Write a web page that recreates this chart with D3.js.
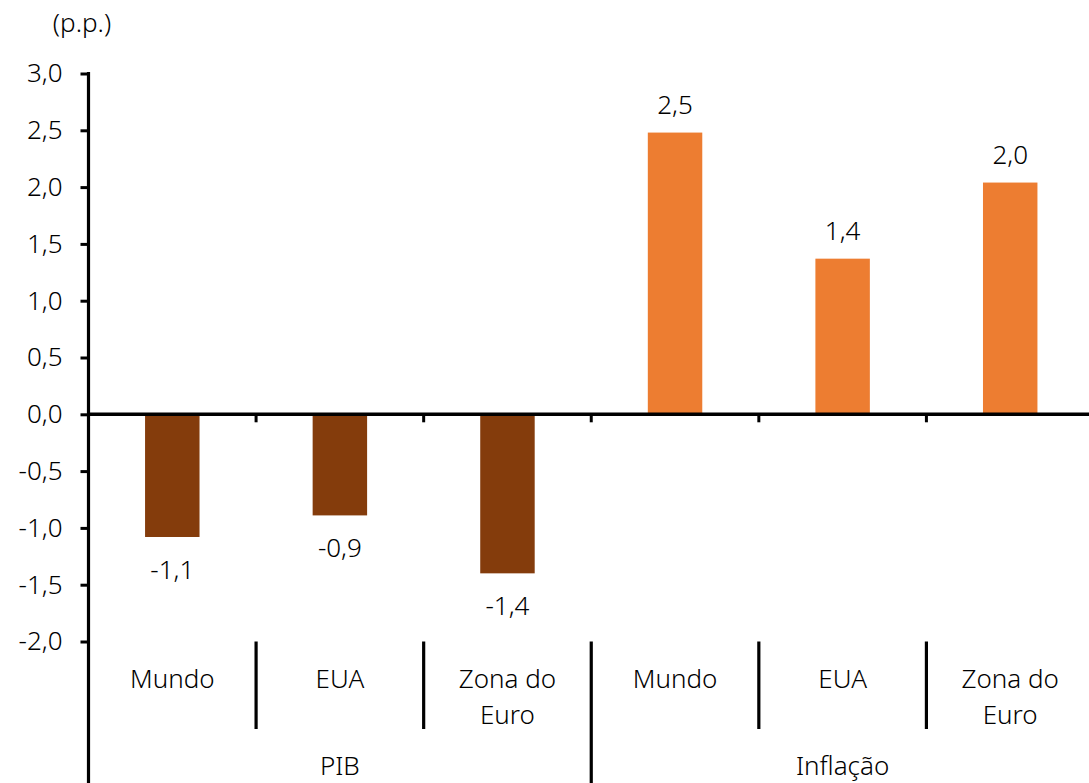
<!DOCTYPE html>
<html>
<head>
<meta charset="utf-8">
<script src="https://cdn.jsdelivr.net/npm/d3@7"></script>
<style>
  body { margin: 0; background: #fff; }
  svg text { font-family: "Noto Sans", "Open Sans", sans-serif; font-weight: 350; fill: #000; }
</style>
</head>
<body>
<div id="chart"></div>
<script>
// dados
const groups = ["PIB", "Inflação"];
const categories = ["Mundo", "EUA", "Zona do Euro"];
const pibValues = [-1.08, -0.89, -1.40];
const inflacaoValues = [2.48, 1.37, 2.04];
const yTicks = [-2.0, -1.5, -1.0, -0.5, 0.0, 0.5, 1.0, 1.5, 2.0, 2.5, 3.0];
const unitLabel = "(p.p.)";

const width = 1089, height = 783;
const colors = {"PIB": "#843C0C", "Inflação": "#ED7D31"};
const fontSize = 26;

// monta lista plana de barras
const rows = [];
groups.forEach((g, gi) => {
  const vals = gi == 0 ? pibValues : inflacaoValues;
  categories.forEach((c, ci) => {
    rows.push({key: g + "|" + c, group: g, cat: c, value: vals[ci]});
  });
});

// formato pt-BR: vírgula decimal e hífen simples
const ptBR = d3.formatLocale({decimal: ",", thousands: ".", grouping: [3], currency: ["R$", ""], minus: "-"});
const comma = ptBR.format(".1f");

const svg = d3.select("#chart").append("svg")
  .attr("width", width)
  .attr("height", height);

const x = d3.scaleBand()
  .domain(rows.map(d => d.key))
  .range([88.5, 1094])
  .padding(0);

const y = d3.scaleLinear()
  .domain([-2, 3])
  .range([641.5, 73.5]);

const barW = x.bandwidth() * 0.325;

// eixo y
const yAxis = svg.append("g")
  .attr("transform", "translate(88.5,0)")
  .call(d3.axisLeft(y).tickValues(yTicks).tickSize(8).tickSizeOuter(0).tickPadding(18).tickFormat(comma));
yAxis.select(".domain").remove();
yAxis.selectAll(".tick line").attr("stroke", "#000").attr("stroke-width", 3);
yAxis.selectAll(".tick text").attr("font-size", fontSize).attr("fill", "#000");

svg.append("line")
  .attr("x1", 88.5).attr("x2", 88.5)
  .attr("y1", y(3) - 1.5).attr("y2", height)
  .attr("stroke", "#000").attr("stroke-width", 3.2);

// barras
svg.selectAll(".bar")
  .data(rows)
  .enter()
  .append("rect")
  .classed("bar", true)
  .attr("x", d => x(d.key) + x.bandwidth() / 2 - barW / 2)
  .attr("width", barW)
  .attr("y", d => d.value >= 0 ? y(d.value) : y(0))
  .attr("height", d => Math.abs(y(d.value) - y(0)))
  .style("fill", d => colors[d.group]);

// linha do zero
svg.append("line")
  .attr("x1", 88.5).attr("x2", width)
  .attr("y1", y(0)).attr("y2", y(0))
  .attr("stroke", "#000").attr("stroke-width", 3.5);

// marcas no eixo x (fronteiras das categorias)
const bounds = rows.slice(1).map(d => x(d.key));
svg.selectAll(".xtick")
  .data(bounds)
  .enter()
  .append("line")
  .attr("x1", d => d).attr("x2", d => d)
  .attr("y1", y(0)).attr("y2", y(0) + 8)
  .attr("stroke", "#000").attr("stroke-width", 3);

// separadores abaixo do gráfico
svg.selectAll(".sep")
  .data(rows.slice(1))
  .enter()
  .append("line")
  .attr("x1", d => x(d.key)).attr("x2", d => x(d.key))
  .attr("y1", y(-2))
  .attr("y2", d => d.cat == categories[0] ? height : 729)
  .attr("stroke", "#000").attr("stroke-width", 3.2);

// rótulos de valor
svg.selectAll(".vlabel")
  .data(rows)
  .enter()
  .append("text")
  .attr("x", d => x(d.key) + x.bandwidth() / 2)
  .attr("y", d => d.value >= 0 ? y(d.value) - 29 : y(d.value) + 32)
  .attr("text-anchor", "middle")
  .attr("dominant-baseline", "central")
  .attr("font-size", fontSize)
  .text(d => comma(d.value));

// rótulos de categoria
rows.forEach(d => {
  const words = d.cat == "Zona do Euro" ? ["Zona do", "Euro"] : [d.cat];
  words.forEach((w, i) => {
    svg.append("text")
      .attr("x", x(d.key) + x.bandwidth() / 2)
      .attr("y", 678 + i * 36)
      .attr("text-anchor", "middle")
      .attr("dominant-baseline", "central")
      .attr("font-size", fontSize)
      .text(w);
  });
});

// rótulos de grupo
groups.forEach(g => {
  const keys = rows.filter(d => d.group == g).map(d => d.key);
  const x0 = x(keys[0]);
  const x1 = x(keys[keys.length - 1]) + x.bandwidth();
  svg.append("text")
    .attr("x", (x0 + x1) / 2)
    .attr("y", 765)
    .attr("text-anchor", "middle")
    .attr("dominant-baseline", "central")
    .attr("font-size", fontSize)
    .text(g);
});

// unidade
svg.append("text")
  .attr("x", 82)
  .attr("y", 22)
  .attr("text-anchor", "middle")
  .attr("dominant-baseline", "central")
  .attr("font-size", fontSize)
  .text(unitLabel);
</script>
</body>
</html>
